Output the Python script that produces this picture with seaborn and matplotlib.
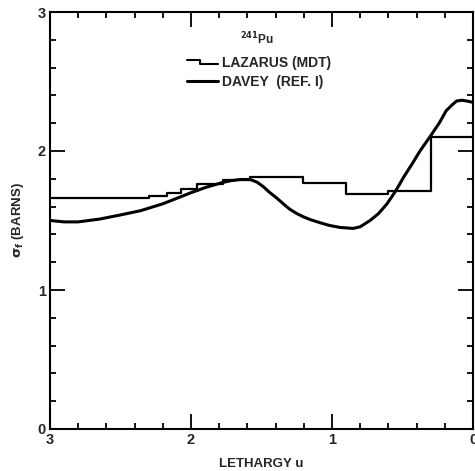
import matplotlib
matplotlib.use("Agg")
import matplotlib.pyplot as plt
from matplotlib.ticker import MultipleLocator, FixedLocator
from matplotlib.legend_handler import HandlerBase
from matplotlib.lines import Line2D
import seaborn as sns
import pandas as pd

# ---- data ----
lazarus_edges = [3.0, 2.30, 2.17, 2.07, 1.96, 1.77, 1.585, 1.207, 0.90, 0.606, 0.30, 0.0]
lazarus_values = [1.66, 1.676, 1.696, 1.724, 1.763, 1.79, 1.81, 1.772, 1.69, 1.714, 2.098]

davey_u = [3.00, 2.90, 2.80, 2.65, 2.50, 2.36, 2.20, 2.10, 2.00, 1.89, 1.77, 1.72,
           1.65, 1.58, 1.53, 1.487, 1.44, 1.39, 1.34, 1.298, 1.25, 1.204, 1.15, 1.085,
           1.02, 0.943, 0.85, 0.80, 0.73, 0.67, 0.61, 0.55, 0.49, 0.43, 0.376, 0.30,
           0.24, 0.19, 0.15, 0.116, 0.08, 0.045, 0.00]
davey_sigma = [1.50, 1.49, 1.49, 1.51, 1.54, 1.57, 1.62, 1.66, 1.70, 1.74, 1.775, 1.786,
               1.795, 1.795, 1.775, 1.743, 1.70, 1.66, 1.615, 1.58, 1.55, 1.527, 1.505, 1.484,
               1.465, 1.45, 1.443, 1.455, 1.50, 1.55, 1.62, 1.71, 1.815, 1.91, 2.00, 2.11,
               2.20, 2.29, 2.33, 2.36, 2.365, 2.36, 2.35]

x_major = [3, 2, 1, 0]
y_major = [0, 1, 2, 3]
x_label = "LETHARGY u"
y_label = r"$\sigma_f$ (BARNS)"
nuclide = r"$^{241}$Pu"
series_names = ["LAZARUS (MDT)", "DAVEY  (REF. I)"]

# ---- build tables ----
step_df = pd.DataFrame({
    "u": lazarus_edges,
    "sigma": lazarus_values + [lazarus_values[-1]],
})
davey_df = pd.DataFrame({"u": davey_u, "sigma": davey_sigma})

sns.set_style("ticks")
plt.rcParams["font.family"] = ["Liberation Sans", "DejaVu Sans"]
plt.rcParams["font.weight"] = "bold"
plt.rcParams["mathtext.default"] = "bf"

fig = plt.figure(figsize=(4.75, 4.71), dpi=100)
ax = fig.add_axes([50 / 475, 1 - 429 / 471, 423 / 475, 417 / 471])

sns.lineplot(data=step_df, x="u", y="sigma", ax=ax, sort=False, estimator=None,
             drawstyle="steps-post", color="black", linewidth=1.6)
sns.lineplot(data=davey_df, x="u", y="sigma", ax=ax, sort=False, estimator=None,
             color="black", linewidth=2.2)

ax.set_xlim(3, 0)
ax.set_ylim(0, 3)
ax.xaxis.set_major_locator(FixedLocator(x_major))
ax.yaxis.set_major_locator(FixedLocator(y_major))
ax.xaxis.set_minor_locator(MultipleLocator(0.2))
ax.yaxis.set_minor_locator(MultipleLocator(0.2))
ax.set_xticklabels([str(v) for v in x_major])
ax.set_yticklabels([str(v) for v in y_major])
ax.tick_params(which="both", direction="in", top=True, right=True, color="black",
               labelsize=10.5, width=1.3)
ax.tick_params(which="major", length=11, pad=3)
ax.tick_params(which="minor", length=4)
for sp in ax.spines.values():
    sp.set_linewidth(1.5)
    sp.set_color("black")

ax.set_xlabel(x_label, fontsize=9.5, fontweight="bold", labelpad=8)
ax.set_ylabel(y_label, fontsize=9.5, fontweight="bold", labelpad=8)

ax.text(0.49, 0.935, nuclide, transform=ax.transAxes, ha="center", va="center",
        fontsize=8.5, fontweight="bold")


class StepHandler(HandlerBase):
    def create_artists(self, legend, orig_handle, xdescent, ydescent, width,
                       height, fontsize, trans):
        x0 = -xdescent
        xm = x0 + 0.42 * width
        ym = height / 2 - ydescent
        xs = [x0, xm, xm, x0 + width]
        ys = [ym + 1.5, ym + 1.5, ym - 1.5, ym - 1.5]
        ln = Line2D(xs, ys, color="black", linewidth=1.5)
        ln.set_transform(trans)
        return [ln]


h_step = Line2D([], [], color="black", linewidth=1.5)
h_smooth = Line2D([], [], color="black", linewidth=2.2)
ax.legend([h_step, h_smooth], series_names, handler_map={h_step: StepHandler()},
          loc="upper left", bbox_to_anchor=(0.324, 0.895), frameon=False,
          fontsize=10, handlelength=2.2, handletextpad=0.35, labelspacing=0.4,
          borderaxespad=0, borderpad=0)

fig.savefig("out.png", dpi=100)
